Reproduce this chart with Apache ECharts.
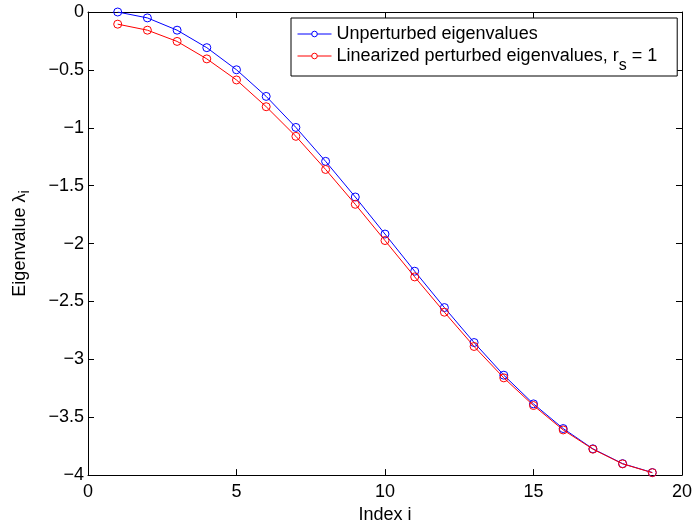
<!DOCTYPE html>
<html>
<head>
<meta charset="utf-8">
<script src="https://cdn.jsdelivr.net/npm/echarts@6/dist/echarts.min.js"></script>
<style>
html,body{margin:0;padding:0;background:#fff;}
#chart{width:695px;height:529px;}
</style>
</head>
<body>
<div id="chart"></div>
<script>
var indices = [1,2,3,4,5,6,7,8,9,10,11,12,13,14,15,16,17,18,19];
var unperturbed = [0, -0.051, -0.157, -0.308, -0.499, -0.729, -0.997, -1.290, -1.598, -1.918, -2.239, -2.553, -2.855, -3.137, -3.385, -3.598, -3.773, -3.901, -3.978];
var linearized = [-0.105, -0.157, -0.254, -0.405, -0.587, -0.818, -1.074, -1.360, -1.661, -1.974, -2.288, -2.593, -2.889, -3.160, -3.399, -3.610, -3.776, -3.903, -3.979];
var seriesNames = ['Unperturbed eigenvalues', 'Linearized perturbed eigenvalues'];

function pairs(xs, ys){ return xs.map(function(x,i){ return [x, ys[i]]; }); }
function fmt(v){ return String(v).replace('-', '\u2212'); }

var FONT = 'Liberation Sans, Arial, Helvetica, sans-serif';
var FS = 18;
var chart = echarts.init(document.getElementById('chart'), null, {renderer:'canvas'});
var tickStyle = {show:true, inside:true, length:6, lineStyle:{color:'#000', width:1}};
var option = {
  animation:false,
  backgroundColor:'#fff',
  grid:{left:88, right:12, top:12, bottom:49, containLabel:false},
  legend:{
    orient:'vertical', left:291, top:18,
    padding:[6,20,2,6], itemGap:2, itemWidth:34, itemHeight:7,
    backgroundColor:'#fff', borderColor:'#000', borderWidth:1, borderRadius:0,
    lineStyle:{width:1},
    itemStyle:{color:'#fff', borderWidth:1},
    data:seriesNames,
    formatter:function(n){ return n === seriesNames[1] ? n + ', r{sub|s} = 1' : n; },
    textStyle:{fontFamily:FONT, fontSize:FS, color:'#000', lineHeight:20,
      rich:{sub:{fontFamily:FONT, fontSize:FS-2, lineHeight:20, verticalAlign:'top', padding:[12,0,0,0], color:'#000'}}}
  },
  xAxis:[{
    type:'value', min:0, max:20, interval:5, position:'bottom',
    name:'Index i', nameLocation:'middle', nameGap:26,
    nameTextStyle:{fontFamily:FONT, fontSize:FS, color:'#000'},
    axisLine:{show:true, onZero:false, lineStyle:{color:'#000', width:1}},
    axisTick:tickStyle,
    axisLabel:{fontFamily:FONT, fontSize:FS, color:'#000', margin:8, formatter:fmt},
    splitLine:{show:false}
  },{
    type:'value', min:0, max:20, interval:5, position:'top',
    axisLine:{show:true, onZero:false, lineStyle:{color:'#000', width:1}},
    axisTick:tickStyle, axisLabel:{show:false}, splitLine:{show:false}
  }],
  yAxis:[{
    type:'value', min:-4, max:0, interval:0.5, position:'left',
    name:'Eigenvalue \u03bb{sub|i}', nameLocation:'middle', nameGap:56,
    nameTextStyle:{fontFamily:FONT, fontSize:FS, color:'#000',
      rich:{sub:{fontFamily:FONT, fontSize:FS-4, verticalAlign:'top', padding:[10,0,0,0], color:'#000'}}},
    axisLine:{show:true, onZero:false, lineStyle:{color:'#000', width:1}},
    axisTick:tickStyle,
    axisLabel:{fontFamily:FONT, fontSize:FS, color:'#000', margin:4, formatter:fmt},
    splitLine:{show:false}
  },{
    type:'value', min:-4, max:0, interval:0.5, position:'right',
    axisLine:{show:true, onZero:false, lineStyle:{color:'#000', width:1}},
    axisTick:tickStyle, axisLabel:{show:false}, splitLine:{show:false}
  }],
  series:[{
    name:seriesNames[0], type:'line', data:pairs(indices, unperturbed),
    symbol:'circle', symbolSize:8, showAllSymbol:true,
    lineStyle:{color:'#0000ff', width:1}, itemStyle:{color:'rgba(255,255,255,0)', borderColor:'#0000ff', borderWidth:1},
    z:3
  },{
    name:seriesNames[1], type:'line', data:pairs(indices, linearized),
    symbol:'circle', symbolSize:8, showAllSymbol:true,
    lineStyle:{color:'#ff0000', width:1}, itemStyle:{color:'rgba(255,255,255,0)', borderColor:'#ff0000', borderWidth:1},
    z:4
  }]
};
chart.setOption(option);
</script>
</body>
</html>
